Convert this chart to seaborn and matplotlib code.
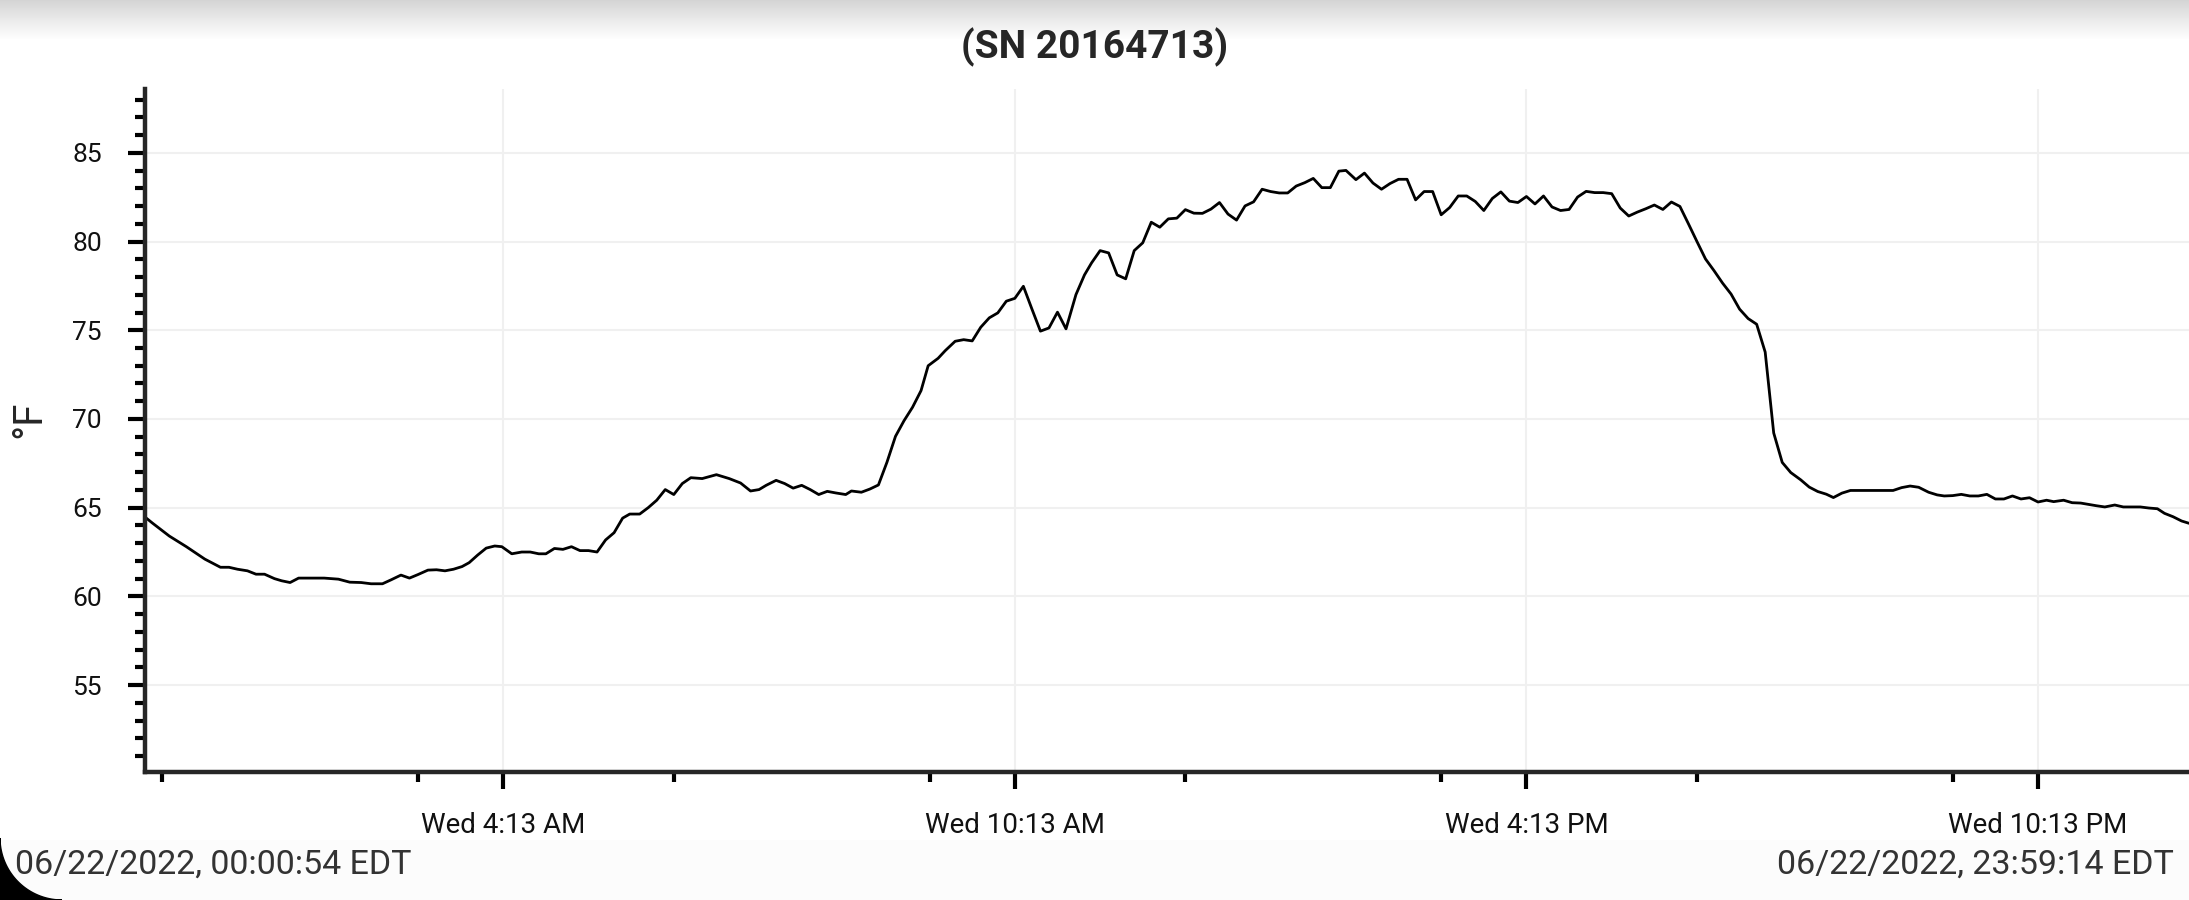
import numpy as np
import pandas as pd
import seaborn as sns
import matplotlib.dates as mdates
from matplotlib import pyplot as plt
from matplotlib.ticker import MultipleLocator
from matplotlib.patches import Polygon, Rectangle

# logger readings, minutes after midnight on 06/22/2022 and temperature in °F
minutes = [
    0.9, 6, 18, 30, 43, 54, 60, 66, 73, 79, 85, 92, 97, 103, 109, 118, 127, 137, 145, 153,
    160, 168, 174, 181, 187, 193, 200, 206, 212, 218, 224, 229, 235, 241, 247,
    252, 259, 266, 272, 278, 283, 289, 295, 301, 307, 313, 319, 325, 331, 337, 342, 349,
    355, 361, 367, 373, 379, 385, 393, 403, 412, 420, 427, 433, 438, 445, 451, 457, 463,
    469, 475, 481, 487, 494,
    498, 505, 511, 517, 523, 529, 535, 541, 547, 552, 559, 564, 571, 577, 583, 589, 595,
    601, 607, 613, 619, 625, 631, 637, 643, 649, 656, 662, 667, 673, 679, 685, 691, 697,
    703, 709, 715, 721, 727, 733, 739,
    745, 751, 757, 763, 769, 775, 781, 787, 793, 799, 805, 811, 817, 823, 829, 835, 841,
    846, 853, 859, 865, 871, 877, 883, 889, 895, 901, 907, 913, 919, 925, 931, 937, 943,
    949, 955, 961, 967, 973, 979, 985,
    991, 997, 1003, 1009, 1015, 1021, 1027, 1033, 1039, 1045, 1051, 1057, 1063, 1069, 1075,
    1081, 1087, 1093, 1099, 1105, 1111, 1117, 1123, 1129, 1135, 1141, 1144, 1147, 1153,
    1159, 1166, 1172, 1178, 1184, 1189, 1195, 1201, 1231,
    1237, 1243, 1249, 1256, 1262, 1267, 1273, 1279, 1285, 1291, 1297, 1303, 1309, 1315,
    1321, 1327, 1333, 1339, 1344, 1351, 1357, 1363, 1368, 1374, 1380, 1387, 1393, 1399,
    1405, 1411, 1417, 1422, 1428, 1434, 1439.2,
]
temps_f = [
    64.47, 64.14, 63.4, 62.8, 62.1, 61.64, 61.64, 61.53, 61.44, 61.25, 61.25, 61.0, 60.88, 60.78, 61.03, 61.03, 61.03, 60.97, 60.8, 60.78,
    60.71, 60.71, 60.93, 61.2, 61.03, 61.23, 61.48, 61.5, 61.44, 61.53, 61.68, 61.9, 62.33, 62.72, 62.84,
    62.8, 62.4, 62.5, 62.5, 62.4, 62.4, 62.7, 62.65, 62.8, 62.58, 62.58, 62.5, 63.18, 63.59, 64.41, 64.64, 64.64,
    65.0, 65.42, 66.02, 65.74, 66.36, 66.69, 66.64, 66.86, 66.64, 66.39, 65.94, 66.02, 66.26, 66.54, 66.36, 66.1, 66.26,
    66.02, 65.74, 65.92, 65.83, 65.74,
    65.94, 65.87, 66.05, 66.28, 67.56, 69.02, 69.9, 70.66, 71.6, 73.0, 73.42, 73.85, 74.38, 74.47, 74.4, 75.17, 75.7,
    75.98, 76.64, 76.8, 77.48, 76.2, 74.95, 75.13, 76.02, 75.08, 77.01, 78.12, 78.8, 79.49, 79.36, 78.12, 77.9, 79.49,
    79.93, 81.09, 80.81, 81.28, 81.32, 81.8, 81.6,
    81.59, 81.83, 82.2, 81.55, 81.21, 82.01, 82.24, 82.95, 82.82, 82.74, 82.74, 83.13, 83.32, 83.56, 83.04, 83.04, 83.97,
    84.01, 83.49, 83.86, 83.3, 82.95, 83.27, 83.51, 83.51, 82.35, 82.82, 82.82, 81.51, 81.92, 82.57, 82.57, 82.26, 81.75,
    82.43, 82.8, 82.28, 82.2, 82.54, 82.12, 82.57,
    81.95, 81.75, 81.81, 82.51, 82.83, 82.76, 82.76, 82.7, 81.89, 81.44, 81.66, 81.85, 82.06, 81.81, 82.23,
    81.98, 81.0, 80.0, 79.02, 78.36, 77.66, 77.04, 76.19, 75.66, 75.34, 73.77, 71.48, 69.21, 67.55,
    66.98, 66.57, 66.16, 65.91, 65.76, 65.57, 65.82, 65.97, 65.97,
    66.13, 66.22, 66.15, 65.87, 65.72, 65.66, 65.68, 65.75, 65.66, 65.66, 65.75, 65.49, 65.49, 65.66,
    65.49, 65.56, 65.32, 65.42, 65.34, 65.42, 65.28, 65.26, 65.19, 65.11, 65.04, 65.15, 65.04, 65.04,
    65.04, 64.98, 64.94, 64.68, 64.49, 64.25, 64.12,
]

day = "2022-06-22"
start_time = "00:00:54"
end_time = "23:59:14"
major_ticks = ["04:13", "10:13", "16:13", "22:13"]
major_labels = ["Wed 4:13 AM", "Wed 10:13 AM", "Wed 4:13 PM", "Wed 10:13 PM"]
minor_ticks = ["00:13", "03:13", "06:13", "09:13", "12:13", "15:13", "18:13", "21:13"]
title = "(SN 20164713)"
unit_label = "°F"
start_label = "06/22/2022, 00:00:54 EDT"
end_label = "06/22/2022, 23:59:14 EDT"


def to_num(hhmm):
    return mdates.date2num(pd.Timestamp(f"{day} {hhmm}"))


df = pd.DataFrame({
    "time": pd.Timestamp(day) + pd.to_timedelta(minutes, unit="m"),
    "temp": temps_f,
})

sns.set_style("white")
plt.rcParams["font.family"] = ["Roboto", "DejaVu Sans"]

W, H = 2189, 900
fig = plt.figure(figsize=(W / 100, H / 100), dpi=100)
fig.patch.set_facecolor("white")

# screenshot shading at the top edge and faint strip at the bottom
band = fig.add_axes([0, 1 - 40 / H, 1, 40 / H], zorder=-5)
shade = np.linspace(0.72, 1.0, 40) ** 0.55
band.imshow(np.repeat(shade[:, None, None], 3, axis=2), aspect="auto", interpolation="bilinear")
band.axis("off")
fig.add_artist(Rectangle((0, 0), 1, 60 / H, transform=fig.transFigure,
                         facecolor="#fcfcfc", edgecolor="none", zorder=-6))

ax = fig.add_axes([145 / W, 128 / H, (W - 145) / W, 683 / H])
sns.lineplot(data=df, x="time", y="temp", color="black", linewidth=2.0, ax=ax)

ax.set_xlim(to_num(start_time), to_num(end_time))
ax.set_ylim(50.1, 88.6)
ax.set_xticks([to_num(t) for t in major_ticks])
ax.set_xticklabels(major_labels)
ax.set_xticks([to_num(t) for t in minor_ticks], minor=True)
ax.yaxis.set_major_locator(MultipleLocator(5))
ax.yaxis.set_minor_locator(MultipleLocator(1))

ax.set_axisbelow(True)
ax.grid(True, which="major", color="#f0f0f0", linewidth=1.5)
ax.grid(False, which="minor")
ax.spines[["top", "right"]].set_visible(False)
ax.spines[["left", "bottom"]].set_linewidth(3.2)
ax.tick_params(which="both", bottom=True, left=True, top=False, right=False, direction="out", color="black")
ax.tick_params(which="major", length=12, width=3)
ax.tick_params(which="minor", length=7, width=3)
ax.tick_params(axis="x", which="major", pad=17, labelsize=20, labelcolor="#111111")
ax.tick_params(axis="y", which="major", pad=19, labelsize=19, labelcolor="#111111")
ax.set(xlabel="", ylabel="")

fig.text(29 / W, 1 - 419 / H, unit_label, rotation=90, ha="center", va="center", fontsize=29)
fig.text(0.5, 1 - 47 / H, title, ha="center", va="center", fontsize=28, fontweight="bold")
fig.text(15 / W, 1 - 865 / H, start_label, ha="left", va="center", fontsize=24.5, color="#333333")
fig.text(2174 / W, 1 - 865 / H, end_label, ha="right", va="center", fontsize=24.5, color="#333333")

# rounded screen corner at the bottom left
r = 62
theta = np.linspace(np.pi, 1.5 * np.pi, 40)
arc = np.column_stack([r + r * np.cos(theta), r + r * np.sin(theta)])
corner = np.vstack([[0, 0], arc])
corner[:, 0] /= W
corner[:, 1] /= H
fig.add_artist(Polygon(corner, closed=True, transform=fig.transFigure, color="black", zorder=10))

fig.savefig("out.png", dpi=100)
